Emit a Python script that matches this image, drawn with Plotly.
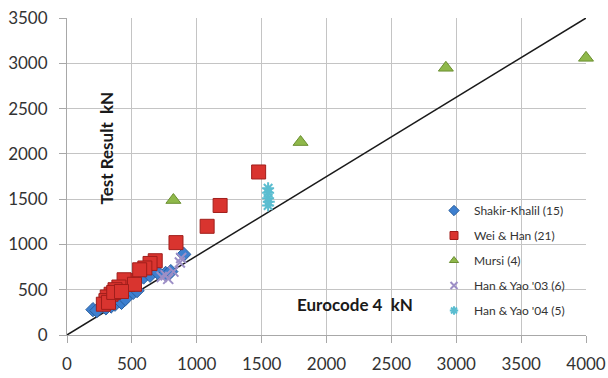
import plotly.graph_objects as go

# Eurocode 4 predicted capacity (kN) vs. measured test result (kN)
shakir_x = [200, 230, 300, 340, 370, 420, 450, 510, 540, 590, 640, 700, 760, 800, 900]
shakir_y = [280, 270, 300, 320, 340, 360, 400, 470, 490, 640, 660, 690, 680, 700, 890]

weihan_x = [1477, 1180, 1080, 840, 680, 640, 600, 500, 470, 440, 400, 370, 340, 310, 300, 280, 320, 360, 520, 560, 420]
weihan_y = [1800, 1430, 1200, 1020, 820, 790, 740, 600, 560, 610, 530, 500, 450, 420, 380, 340, 360, 470, 560, 720, 480]

mursi_x = [820, 1800, 2920, 4000]
mursi_y = [1490, 2130, 2950, 3060]

hanyao03_x = [730, 760, 780, 820, 870, 880]
hanyao03_y = [640, 660, 620, 700, 800, 850]

hanyao04_x = [1550, 1550, 1550, 1555, 1550]
hanyao04_y = [1620, 1570, 1510, 1470, 1430]

# reference line through the origin to the upper-right corner
line_x = [0, 4000]
line_y = [0, 3500]

x_ticks = [0, 500, 1000, 1500, 2000, 2500, 3000, 3500, 4000]
y_ticks = [0, 500, 1000, 1500, 2000, 2500, 3000, 3500]

font = "Lato, 'Open Sans', sans-serif"

series = [
    ("Shakir-Khalil (15)", shakir_x, shakir_y,
     dict(symbol="diamond", size=11, color="#3d7fcf", line=dict(color="#2a5f9e", width=1)), 8),
    ("Wei & Han (21)", weihan_x, weihan_y,
     dict(symbol="square", size=14, color="#d9342f", line=dict(color="#a01e1b", width=1)), 8),
    ("Mursi (4)", mursi_x, mursi_y,
     dict(symbol="triangle-up", size=13, color="#8fb84a", line=dict(color="#6b8f31", width=1)), 8),
    ("Han & Yao '03 (6)", hanyao03_x, hanyao03_y,
     dict(symbol="x-thin", size=10, color="#9d8fc6", line=dict(color="#9d8fc6", width=2)), 7),
    ("Han & Yao '04 (5)", hanyao04_x, hanyao04_y,
     dict(symbol="asterisk", size=10, color="#5bbdd0", line=dict(color="#5bbdd0", width=2)), 7),
]

fig = go.Figure()

fig.add_trace(go.Scatter(x=line_x, y=line_y, mode="lines",
                         line=dict(color="#1a1a1a", width=1.5),
                         showlegend=False, hoverinfo="skip"))

for i, (name, xs, ys, marker, legend_size) in enumerate(series):
    fig.add_trace(go.Scatter(x=xs, y=ys, mode="markers", name=name,
                             legendgroup=str(i), showlegend=False,
                             cliponaxis=False, marker=marker))
    # small legend swatch for the series
    swatch = dict(marker)
    swatch["size"] = legend_size
    fig.add_trace(go.Scatter(x=[None], y=[None], mode="markers", name=name,
                             legendgroup=str(i), showlegend=True, marker=swatch))

axis_common = dict(
    showgrid=True, gridcolor="#c4c4c4", gridwidth=1,
    showline=True, linecolor="#a8a8a8", linewidth=1,
    ticks="outside", ticklen=7, tickcolor="#a8a8a8",
    tickfont=dict(family=font, size=17, color="#333333"),
    zeroline=False, fixedrange=True, automargin=False,
)

fig.update_xaxes(range=[0, 4000], tickvals=x_ticks, ticklabelstandoff=7, **axis_common)
fig.update_yaxes(range=[0, 3500], tickvals=y_ticks, ticklabelstandoff=8, **axis_common)

W, H = 608, 378
L, R, T, B = 67, 22, 18, 43
pw, ph = W - L - R, H - T - B


def px_to_paper(px, py):
    return (px - L) / pw, 1 - (py - T) / ph


ax, ay = px_to_paper(93, 148)
fig.add_annotation(text="<b>Test Result  kN</b>", x=ax, y=ay, xref="paper", yref="paper",
                   showarrow=False, textangle=-90,
                   font=dict(family=font, size=17, color="#1a1a1a"))
ax, ay = px_to_paper(355, 317)
fig.add_annotation(text="<b>Eurocode 4  kN</b>", x=ax, y=ay, xref="paper", yref="paper",
                   showarrow=False, font=dict(family=font, size=17, color="#1a1a1a"))

lx, ly = px_to_paper(434, 196)
fig.update_layout(
    width=W, height=H,
    margin=dict(l=L, r=R, t=T, b=B),
    paper_bgcolor="white", plot_bgcolor="white",
    showlegend=True,
    legend=dict(x=lx, y=ly, xanchor="left", yanchor="top",
                bgcolor="rgba(0,0,0,0)", borderwidth=0,
                font=dict(family=font, size=12, color="#333333"),
                tracegroupgap=6, itemwidth=30),
)

fig.write_html("out.html")
